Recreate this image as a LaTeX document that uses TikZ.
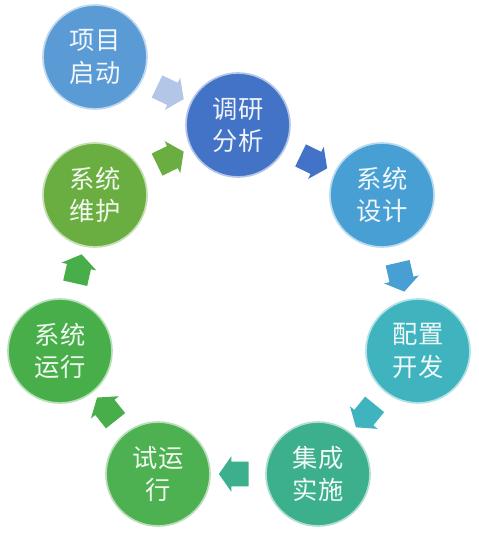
\documentclass[tikz,border=0pt]{standalone}
\usepackage{fontspec}
\newfontfamily\cjk{Noto Sans CJK SC}
\usepackage{xcolor}
\usepackage{tikz}
\usetikzlibrary{shapes.arrows,calc}
\definecolor{cStart}{HTML}{5B9BD5}
\definecolor{cPale}{HTML}{B4C6E8}
\definecolor{cStudy}{HTML}{4373C6}
\definecolor{cDesign}{HTML}{489FD3}
\definecolor{cConf}{HTML}{40B4BE}
\definecolor{cInteg}{HTML}{3CAF8C}
\definecolor{cTrial}{HTML}{4DB051}
\definecolor{cRun}{HTML}{47AE4A}
\definecolor{cMaint}{HTML}{6AAE42}

\begin{document}
\begin{tikzpicture}[font=\cjk\fontsize{18}{23}\selectfont,
  stage/.style={circle, minimum size=2.6cm, align=center, fill=#1, draw=#1!40, line width=1.2pt, text=white!92!#1},
  flow/.style={single arrow, fill=#1, draw=none, inner xsep=0pt, inner ysep=0.3cm, minimum height=0.74cm,
    single arrow head extend=0.14cm, single arrow tip angle=110, sloped, allow upside down, pos=0.5}]
\useasboundingbox (0,0) rectangle (11.95,-13.4);
\node[stage=cStart] (xmqd) at (2.375,-1.425) {项目\\启动};
\node[stage=cStudy] (dyfx) at (5.95,-3.125) {调研\\分析};
\node[stage=cDesign] (xtsj) at (9.55,-4.875) {系统\\设计};
\node[stage=cConf] (pzkf) at (10.45,-8.775) {配置\\开发};
\node[stage=cInteg] (jcss) at (7.95,-11.85) {集成\\实施};
\node[stage=cTrial] (syx) at (3.95,-11.85) {试运\\行};
\node[stage=cRun] (xtyx) at (1.5,-8.775) {系统\\运行};
\node[stage=cMaint] (xtwh) at (2.375,-4.875) {系统\\维护};
% block arrows between the stages
\path (xmqd.center) -- node[flow=cPale] {} (dyfx.center);
\path (dyfx.center) -- node[flow=cStudy] {} (xtsj.center);
\path (xtsj.center) -- node[flow=cDesign] {} (pzkf.center);
\path (pzkf.center) -- node[flow=cConf] {} (jcss.center);
\path (jcss.center) -- node[flow=cInteg] {} (syx.center);
\path (syx.center) -- node[flow=cRun] {} (xtyx.center);
\path (xtyx.center) -- node[flow=cRun] {} (xtwh.center);
\path (xtwh.center) -- node[flow=cMaint] {} (dyfx.center);
\end{tikzpicture}
\end{document}
